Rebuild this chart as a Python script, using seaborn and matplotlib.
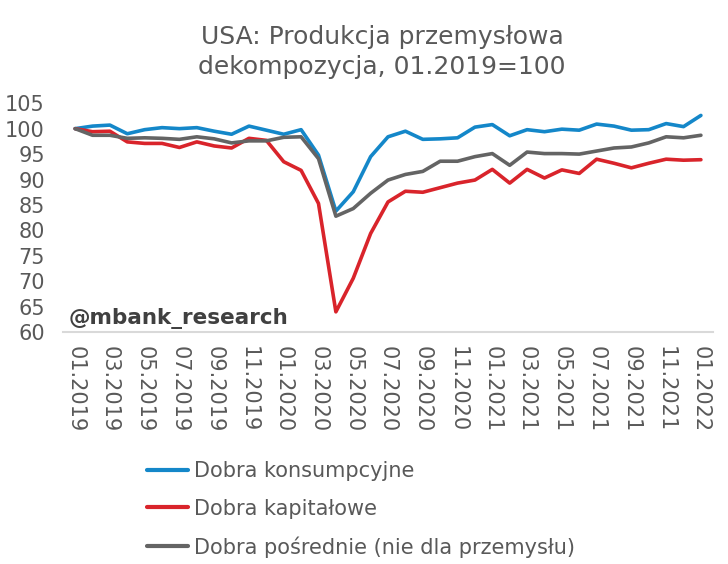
import matplotlib

matplotlib.use("Agg")
import matplotlib.pyplot as plt
import numpy as np
import pandas as pd
import seaborn as sns

months = [f"{m:02d}.{y}" for y in (2019, 2020, 2021) for m in range(1, 13)] + ["01.2022"]

konsumpcyjne = [
    100.0, 100.5, 100.7, 99.0, 99.8, 100.2, 100.0, 100.2, 99.5, 98.9, 100.5, 99.7,
    98.9, 99.8, 94.8, 83.8, 87.6, 94.5, 98.4, 99.5, 97.9, 98.0, 98.2, 100.3,
    100.8, 98.6, 99.8, 99.4, 99.9, 99.7, 100.9, 100.5, 99.7, 99.8, 101.0, 100.4,
    102.6,
]
kapitalowe = [
    100.0, 99.4, 99.5, 97.4, 97.1, 97.1, 96.3, 97.4, 96.6, 96.2, 98.1, 97.7,
    93.5, 91.8, 85.3, 64.0, 70.6, 79.4, 85.6, 87.7, 87.5, 88.4, 89.3, 89.9,
    92.0, 89.3, 92.0, 90.3, 91.9, 91.2, 94.0, 93.2, 92.3, 93.2, 94.0, 93.8,
    93.9,
]
posrednie = [
    100.0, 98.7, 98.7, 98.1, 98.2, 98.1, 97.9, 98.4, 98.0, 97.2, 97.6, 97.6,
    98.3, 98.4, 94.1, 82.8, 84.3, 87.3, 89.9, 91.0, 91.6, 93.6, 93.6, 94.5,
    95.1, 92.8, 95.4, 95.1, 95.1, 95.0, 95.6, 96.2, 96.4, 97.2, 98.4, 98.2,
    98.7,
]

series_names = [
    "Dobra konsumpcyjne",
    "Dobra kapitałowe",
    "Dobra pośrednie (nie dla przemysłu)",
]
colors = ["#1487c9", "#d9242b", "#646464"]

df = pd.concat(
    [
        pd.DataFrame({"idx": np.arange(len(months)), "value": vals, "seria": name})
        for name, vals in zip(series_names, [konsumpcyjne, kapitalowe, posrednie])
    ]
)

sns.set_style("white")
plt.rcParams["font.family"] = ["DejaVu Sans"]
text_color = "#595959"

fig = plt.figure(figsize=(7.28, 5.64), dpi=100)
ax = fig.add_axes([0.0865, 0.411, 0.893, 0.406])

sns.lineplot(
    data=df,
    x="idx",
    y="value",
    hue="seria",
    hue_order=series_names,
    palette=colors,
    linewidth=2.6,
    ax=ax,
)

ax.set_xlim(-0.7, 36.7)
ax.set_ylim(60, 105)
ax.set_yticks(np.arange(60, 106, 5))
ax.set_xticks(np.arange(0, len(months), 2))
ax.set_xticklabels(months[::2], rotation=-90, va="top", ha="center")
ax.tick_params(axis="both", length=0, labelsize=15, labelcolor=text_color)
ax.tick_params(axis="x", pad=10)
ax.tick_params(axis="y", pad=13)
ax.set_xlabel("")
ax.set_ylabel("")

for side in ["top", "right", "left"]:
    ax.spines[side].set_visible(False)
ax.spines["bottom"].set_color("#d9d9d9")
ax.spines["bottom"].set_linewidth(1.5)

# tytuł trochę w lewo od środka osi, jak w oryginale
fig.text(
    0.525, 0.908,
    "USA: Produkcja przemysłowa\ndekompozycja, 01.2019=100",
    fontsize=18,
    color=text_color,
    ha="center",
    va="center",
    linespacing=1.3,
)

ax.text(
    0.008, 0.035, "@mbank_research",
    transform=ax.transAxes, fontsize=15.5, fontweight="bold", color="#404040",
)

leg = ax.legend(
    loc="upper left",
    bbox_to_anchor=(0.1, -0.48),
    frameon=False,
    fontsize=15,
    handlelength=2.0,
    handletextpad=0.25,
    labelspacing=0.85,
    labelcolor=text_color,
)
for line in leg.get_lines():
    line.set_linewidth(3)

fig.savefig("out.png", dpi=100)
